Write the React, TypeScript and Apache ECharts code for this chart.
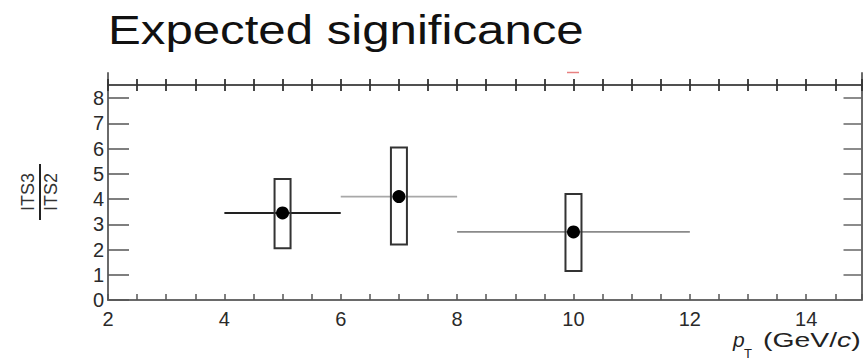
import React, { useEffect, useRef } from "react";
import * as echarts from "echarts";

// ---- data ----
const xCenters = [5, 7, 10];
const xLow = [4, 6, 8];
const xHigh = [6, 8, 12];
const yValues = [3.45, 4.1, 2.7];
const boxLow = [2.05, 2.2, 1.15];
const boxHigh = [4.8, 6.05, 4.2];
const xTickLabels = [2, 4, 6, 8, 10, 12, 14];
const yTickLabels = [0, 1, 2, 3, 4, 5, 6, 7, 8];
const titleText = "Expected significance";

// ---- styles ----
const hLineColors = ["#222222", "#a8a8a8", "#8a8a8a"];
const hLineWidths = [2, 1.8, 1.6];
const FONT = '"Liberation Sans", Arial, Helvetica, sans-serif';

export default function App() {
  const ref = useRef<HTMLDivElement>(null);

  useEffect(() => {
    if (!ref.current) return;
    const chart = echarts.init(ref.current, null, { renderer: "svg" });

    const seriesData = xCenters.map((x, i) => [x, xLow[i], xHigh[i], yValues[i], boxLow[i], boxHigh[i]]);

    const xCommon = {
      type: "value" as const,
      min: 2,
      max: 14.95,
      interval: 0.5,
      splitLine: { show: false },
    };

    const option: any = {
      animation: false,
      backgroundColor: "#ffffff",
      grid: { left: 108, right: 4.5, top: 73, bottom: 64, containLabel: false },
      xAxis: [
        {
          ...xCommon,
          position: "bottom",
          axisLine: { show: true, onZero: false, lineStyle: { color: "#6a6a6a", width: 2 } },
          axisTick: { show: true, inside: true, length: 6, lineStyle: { color: "#555", width: 1.5 } },
          axisLabel: {
            show: true,
            customValues: xTickLabels,
            fontFamily: FONT,
            fontSize: 20,
            color: "#2a2a2a",
            margin: 9,
          },
        },
        {
          ...xCommon,
          position: "top",
          offset: -12,
          axisLine: { show: true, onZero: false, lineStyle: { color: "#505050", width: 2 } },
          axisTick: { show: true, inside: true, length: 6, lineStyle: { color: "#333", width: 1.8 } },
          axisLabel: { show: false },
        },
        {
          ...xCommon,
          position: "top",
          offset: -12,
          axisLine: { show: false, onZero: false },
          axisTick: { show: true, inside: false, length: 6, lineStyle: { color: "#333", width: 1.8 } },
          axisLabel: { show: false },
        },
      ],
      yAxis: [
        {
          type: "value",
          position: "left",
          min: 0,
          max: 9,
          interval: 1,
          splitLine: { show: false },
          axisLine: { show: true, onZero: false, lineStyle: { color: "#6a6a6a", width: 2 } },
          axisTick: { show: true, inside: true, length: 21, customValues: yTickLabels, lineStyle: { color: "#555", width: 1.5 } },
          axisLabel: {
            show: true,
            customValues: yTickLabels,
            fontFamily: FONT,
            fontSize: 20,
            color: "#2a2a2a",
            margin: 4,
          },
        },
        {
          type: "value",
          position: "right",
          min: 0,
          max: 9,
          interval: 1,
          splitLine: { show: false },
          axisLine: { show: true, onZero: false, lineStyle: { color: "#6a6a6a", width: 2 } },
          axisTick: { show: true, inside: true, length: 18, customValues: yTickLabels, lineStyle: { color: "#666", width: 1.5 } },
          axisLabel: { show: false },
        },
      ],
      series: [
        {
          type: "custom",
          xAxisIndex: 0,
          yAxisIndex: 0,
          data: seriesData,
          renderItem: (params: any, api: any) => {
            const i = params.dataIndex;
            const c = api.coord([api.value(0), api.value(3)]);
            const l = api.coord([api.value(1), api.value(3)]);
            const r = api.coord([api.value(2), api.value(3)]);
            const bt = api.coord([api.value(0), api.value(5)]);
            const bb = api.coord([api.value(0), api.value(4)]);
            return {
              type: "group",
              children: [
                {
                  type: "line",
                  shape: { x1: l[0], y1: l[1], x2: r[0], y2: r[1] },
                  style: { stroke: hLineColors[i], lineWidth: hLineWidths[i] },
                },
                {
                  type: "rect",
                  shape: { x: c[0] - 8, y: bt[1], width: 16, height: bb[1] - bt[1] },
                  style: { fill: "none", stroke: "#333", lineWidth: 2 },
                },
                {
                  type: "circle",
                  shape: { cx: c[0], cy: c[1], r: 6.5 },
                  style: { fill: "#000" },
                },
              ],
            };
          },
        },
      ],
      graphic: [
        {
          type: "text",
          x: 108,
          y: 30,
          scaleX: 1.2,
          style: {
            x: 0,
            y: 0,
            text: titleText,
            fontFamily: FONT,
            fontSize: 41,
            fill: "#111",
            align: "left",
            verticalAlign: "middle",
          },
        },
        {
          type: "group",
          x: 40,
          y: 192,
          rotation: Math.PI / 2,
          children: [
            {
              type: "line",
              shape: { x1: -28, y1: 0, x2: 28, y2: 0 },
              style: { stroke: "#222", lineWidth: 2 },
            },
            {
              type: "text",
              style: {
                x: 0,
                y: -3,
                text: "ITS3",
                fontFamily: FONT,
                fontSize: 18,
                fill: "#333",
                align: "center",
                verticalAlign: "bottom",
              },
            },
            {
              type: "text",
              style: {
                x: 0,
                y: 2,
                text: "ITS2",
                fontFamily: FONT,
                fontSize: 18,
                fill: "#333",
                align: "center",
                verticalAlign: "top",
              },
            },
          ],
        },
        {
          type: "text",
          x: 733,
          y: 339,
          style: {
            x: 0,
            y: 0,
            text: "p",
            fontFamily: FONT,
            fontStyle: "italic",
            fontSize: 21,
            fill: "#222",
            align: "left",
            verticalAlign: "middle",
          },
        },
        {
          type: "text",
          x: 744,
          y: 353,
          style: {
            x: 0,
            y: 0,
            text: "T",
            fontFamily: FONT,
            fontSize: 13,
            fill: "#222",
            align: "left",
            verticalAlign: "middle",
          },
        },
        {
          type: "text",
          x: 763,
          y: 339,
          scaleX: 1.35,
          style: {
            x: 0,
            y: 0,
            text: "(GeV/{i|c})",
            fontFamily: FONT,
            fontSize: 21,
            fill: "#222",
            align: "left",
            verticalAlign: "middle",
            rich: {
              i: { fontFamily: FONT, fontStyle: "italic", fontSize: 21, fill: "#222" },
            },
          },
        },
        {
          type: "line",
          shape: { x1: 567, y1: 72.5, x2: 579, y2: 72.5 },
          style: { stroke: "#e88080", lineWidth: 1.5 },
        },
      ],
    };

    chart.setOption(option);
    return () => chart.dispose();
  }, []);

  return <div ref={ref} style={{ width: 866, height: 364, position: "absolute", left: 0, top: 0 }} />;
}
